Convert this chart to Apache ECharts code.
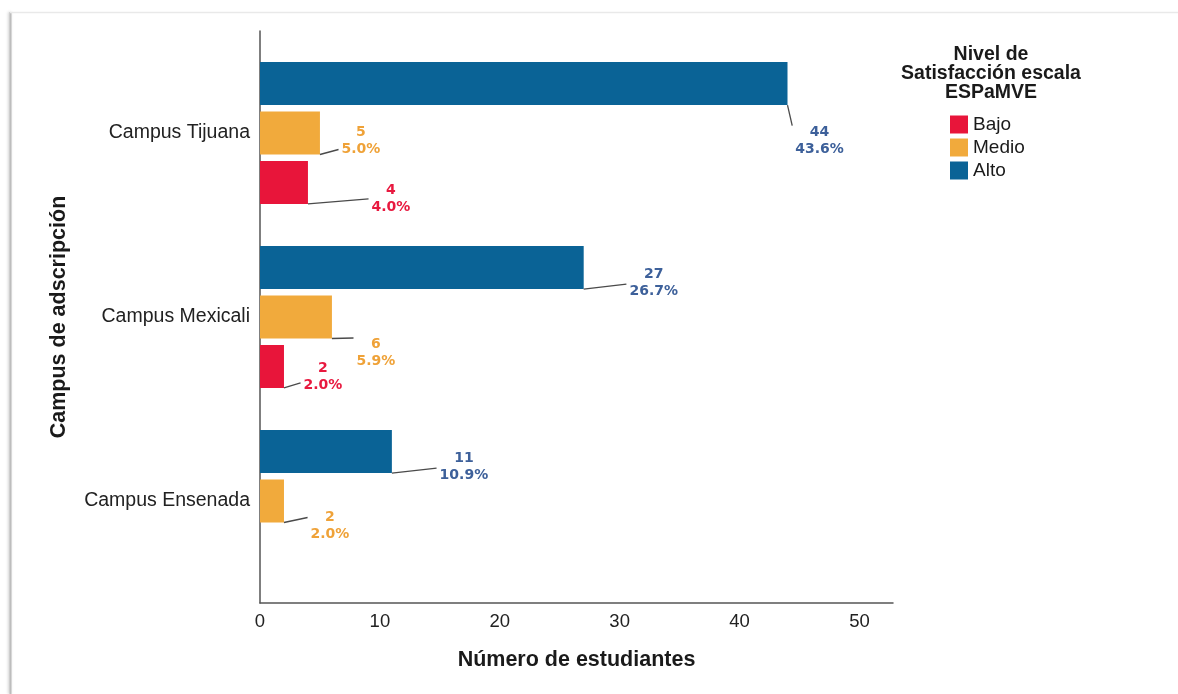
<!DOCTYPE html>
<html>
<head>
<meta charset="utf-8">
<style>
  html, body { margin: 0; padding: 0; background: #ffffff; }
  #chart { width: 1178px; height: 694px; }
</style>
<script src="https://cdn.jsdelivr.net/npm/echarts@6/dist/echarts.min.js"></script>
</head>
<body>
<div id="chart"></div>
<script>
// Campuses, listed bottom to top along the category axis
const campuses = ['Campus Ensenada', 'Campus Mexicali', 'Campus Tijuana'];
// Student counts per satisfaction level (same order as campuses)
const bajo  = [null, 2, 4];
const medio = [2, 6, 5];
const alto  = [11, 27, 44];
const levels = ['Bajo', 'Medio', 'Alto'];
const xTicks = [0, 10, 20, 30, 40, 50];

const colors = { Bajo: '#E8153A', Medio: '#F1AA3C', Alto: '#0A6396' };
const labelColors = { Bajo: '#E8193F', Medio: '#EFA238', Alto: '#3D609A' };

const total = [...bajo, ...medio, ...alto].reduce((s, v) => s + (v || 0), 0);

// Where each value label sits relative to the end of its bar
const labelNudge = {
  Bajo:  [null, [39, 10], [83, 16]],
  Medio: [[46, 25], [44, 36], [41, 8]],
  Alto:  [[72, 15], [70, 15], [32, 57]]
};
// Series drawn from the top of each band downwards
const seriesOrder = ['Alto', 'Medio', 'Bajo'];
const seriesValues = { Bajo: bajo, Medio: medio, Alto: alto };

const FONT = '"Liberation Sans", Arial, sans-serif';
const LABEL_FAMILY = '"DejaVu Sans", Verdana, sans-serif';
const LABEL_SIZE = 14;
const LABEL_LINE_H = 17;
const BAR_W = 43;
const BAR_GAP = 0.15;
const xMax = 52.8;

function labelText(v) {
  return [String(v), (v / total * 100).toFixed(1) + '%'];
}

const measureCtx = document.createElement('canvas').getContext('2d');
function labelWidth(v) {
  measureCtx.font = 'bold ' + LABEL_SIZE + 'px ' + LABEL_FAMILY;
  return Math.max(...labelText(v).map(t => measureCtx.measureText(t).width));
}

function placeLabel(params) {
  const name = seriesOrder[params.seriesIndex];
  const off = (labelNudge[name] || [])[params.dataIndex] || [0, 0];
  return { dx: off[0], dy: off[1] };
}

function makeSeries(name, values) {
  return {
    name: name,
    type: 'bar',
    xAxisIndex: 0,
    yAxisIndex: 0,
    barWidth: BAR_W,
    barGap: (BAR_GAP * 100) + '%',
    itemStyle: { color: colors[name] },
    label: {
      show: true,
      position: 'right',
      distance: 0,
      align: 'center',
      verticalAlign: 'middle',
      color: labelColors[name],
      fontFamily: LABEL_FAMILY,
      fontWeight: 'bold',
      fontSize: LABEL_SIZE,
      lineHeight: LABEL_LINE_H,
      formatter: p => labelText(p.value).join('\n')
    },
    labelLayout: placeLabel,
    data: values.map(v => (v == null ? '-' : v))
  };
}

// Leader lines: [value, category index, series slot]
const leaderData = [];
seriesOrder.forEach((name, k) => {
  seriesValues[name].forEach((v, i) => {
    if (v != null) leaderData.push([v, i, k]);
  });
});

function renderLeader(params, api) {
  const v = api.value(0);
  const c = api.value(1);
  const k = api.value(2);
  const name = seriesOrder[k];
  const off = labelNudge[name][c];
  const p = api.coord([v, c]);
  const gap = BAR_W * BAR_GAP;
  const groupH = seriesOrder.length * BAR_W + (seriesOrder.length - 1) * gap;
  const barTop = p[1] - groupH / 2 + k * (BAR_W + gap);
  const x0 = p[0];
  const y0 = barTop + BAR_W;
  const cx = x0 + off[0];
  const cy = barTop + BAR_W / 2 + off[1];
  const left = cx - labelWidth(v) / 2;
  const top = cy - LABEL_LINE_H;
  const bottom = cy + LABEL_LINE_H;
  const x1 = left - 3;
  const y1 = Math.min(Math.max(y0 - 5, top + 2), bottom - 6);
  return {
    type: 'polyline',
    shape: { points: [[x0, y0], [x1, y1]] },
    style: { stroke: '#4a4a4a', lineWidth: 1.3, fill: null }
  };
}

const option = {
  backgroundColor: '#ffffff',
  animation: false,
  title: {
    text: 'Nivel de\nSatisfacción escala\nESPaMVE',
    left: 986,
    top: 40,
    textAlign: 'center',
    textStyle: {
      fontFamily: FONT,
      fontWeight: 'bold',
      fontSize: 19.5,
      lineHeight: 19,
      color: '#1a1a1a'
    }
  },
  legend: {
    data: levels,
    orient: 'vertical',
    left: 945,
    top: 110,
    itemWidth: 18,
    itemHeight: 18,
    itemGap: 4,
    icon: 'rect',
    textStyle: { fontFamily: FONT, fontSize: 19, color: '#1a1a1a' }
  },
  grid: [
    // bars
    { left: 260, right: 285, top: 41, bottom: 101, containLabel: false },
    // axis frame
    { left: 260, right: 285, top: 31, bottom: 91, containLabel: false }
  ],
  xAxis: [
    { type: 'value', gridIndex: 0, min: 0, max: xMax, show: false },
    {
      type: 'value', gridIndex: 1, min: 0, max: xMax, interval: 10,
      axisLine: { show: true, lineStyle: { color: '#555555', width: 1.5 } },
      axisTick: { show: false },
      splitLine: { show: false },
      axisLabel: {
        margin: 9,
        fontFamily: FONT, fontSize: 18.5, color: '#222222',
        formatter: v => (xTicks.indexOf(v) >= 0 ? String(v) : '')
      },
      name: 'Número de estudiantes',
      nameLocation: 'middle',
      nameGap: 46,
      nameTextStyle: { fontFamily: FONT, fontWeight: 'bold', fontSize: 21.5, color: '#1a1a1a' }
    }
  ],
  yAxis: [
    {
      type: 'category', gridIndex: 0, data: campuses,
      axisLine: { show: false },
      axisTick: { show: false },
      axisLabel: { margin: 10, fontFamily: FONT, fontSize: 19.5, color: '#222222' }
    },
    {
      type: 'value', gridIndex: 1, min: 0, max: 1,
      axisLine: { show: true, lineStyle: { color: '#555555', width: 1.5 } },
      axisTick: { show: false },
      axisLabel: { show: false },
      splitLine: { show: false },
      name: 'Campus de adscripción',
      nameLocation: 'middle',
      nameRotate: 90,
      nameGap: 190,
      nameTextStyle: { fontFamily: FONT, fontWeight: 'bold', fontSize: 21.5, color: '#1a1a1a' }
    }
  ],
  graphic: [
    {
      type: 'line', silent: true, z: -1,
      shape: { x1: 10.5, y1: 12, x2: 10.5, y2: 694 },
      style: { stroke: '#bdbdbd', lineWidth: 2, shadowBlur: 3, shadowColor: 'rgba(0,0,0,0.25)', shadowOffsetX: -1 }
    },
    {
      type: 'line', silent: true, z: -1,
      shape: { x1: 10, y1: 12.5, x2: 1178, y2: 12.5 },
      style: { stroke: '#e9e9e9', lineWidth: 1.5 }
    }
  ],
  series: [
    makeSeries('Alto', alto),
    makeSeries('Medio', medio),
    makeSeries('Bajo', bajo),
    {
      name: 'leaders',
      type: 'custom',
      xAxisIndex: 0,
      yAxisIndex: 0,
      silent: true,
      z: 3,
      clip: false,
      renderItem: renderLeader,
      encode: { x: 0, y: 1 },
      data: leaderData
    }
  ]
};

const chart = echarts.init(document.getElementById('chart'), null, { renderer: 'canvas' });
chart.setOption(option);
</script>
</body>
</html>
